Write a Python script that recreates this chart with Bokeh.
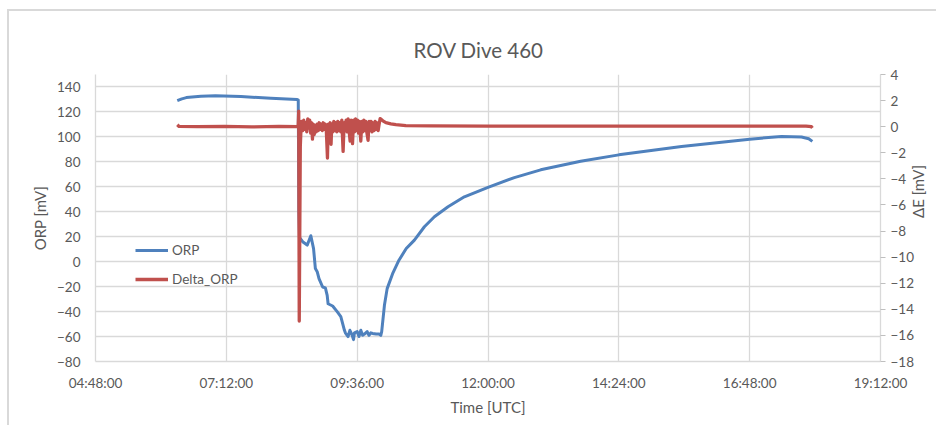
import math
import pandas as pd
from bokeh.plotting import figure
from bokeh.models import (Range1d, LinearAxis, FixedTicker, DatetimeTickFormatter,
                          Legend, LegendItem, ColumnDataSource, Title)
from bokeh.embed import file_html
from bokeh.resources import INLINE

DAY = "2000-01-01 "

# ORP sensor reading [mV] against time of day (UTC)
orp_time = ["06:18:00", "06:23:00", "06:28:00", "06:44:00", "07:00:00", "07:28:00",
            "08:01:00", "08:30:00", "08:31:10", "08:31:50", "08:32:30", "08:33:30",
            "08:36:00", "08:41:00", "08:43:00", "08:45:00", "08:48:00", "08:50:00",
            "08:52:00", "08:54:00", "08:58:00", "09:01:00", "09:03:00", "09:04:00",
            "09:09:00", "09:14:00", "09:18:00", "09:22:00", "09:23:00", "09:26:00",
            "09:28:00", "09:30:00", "09:32:00", "09:33:00", "09:36:00", "09:38:00",
            "09:40:00", "09:42:00", "09:44:00", "09:47:00", "09:49:00", "09:51:00",
            "09:53:00", "09:57:00", "10:00:00", "10:02:00", "10:03:00", "10:06:00",
            "10:09:00", "10:15:00", "10:22:00", "10:30:00", "10:39:00", "10:50:00",
            "11:01:00", "11:16:00", "11:34:00", "12:00:00", "12:29:00", "12:58:00",
            "13:42:00", "14:24:00", "15:33:00", "16:48:00", "17:23:00", "17:45:00",
            "17:53:00", "17:57:00"]
orp_mv = [129, 130.5, 131.5, 132.5, 133, 132.3,
          131, 130, 129.5, 40, 19, 18.5,
          16, 13.3, 17, 20.8, 10.5, -5.5,
          -8, -13.6, -20.3, -21, -27, -33.7,
          -35.5, -40, -44, -55, -57, -60,
          -55, -58, -62.5, -57, -56, -60,
          -55, -59, -58, -56, -59, -57,
          -57.5, -58, -58, -59, -56, -35,
          -21.6, -9.6, 1.2, 10.5, 17.3, 28,
          36, 44, 52, 59.6, 67.4, 73.6,
          80.5, 85.6, 92.3, 98.2, 100.4, 99.9,
          98.5, 96.4]

# Delta_ORP (potential change, right axis) [mV]
delta_time = ["06:18:00", "06:20:00", "06:40:00", "07:10:00", "07:40:00", "08:10:00",
              "08:31:00", "08:31:40", "08:32:15", "08:33:25", "08:34:30", "08:36:07",
              "08:37:13", "08:38:20", "08:39:26", "08:40:32", "08:41:38", "08:42:44",
              "08:43:45", "08:44:50", "08:45:56", "08:46:48", "08:47:37", "08:48:43",
              "08:49:50", "08:50:56", "08:52:00", "08:53:10", "08:54:16", "08:55:23",
              "08:56:29", "08:57:35", "08:58:41", "08:59:47", "09:00:54", "09:02:00",
              "09:03:18", "09:04:11", "09:05:17", "09:06:23", "09:07:16", "09:08:05",
              "09:09:11", "09:10:17", "09:11:23", "09:12:29", "09:13:35", "09:14:42",
              "09:15:48", "09:16:54", "09:18:00", "09:19:06", "09:20:32", "09:21:38",
              "09:22:44", "09:23:50", "09:24:56", "09:26:02", "09:27:08", "09:28:14",
              "09:29:20", "09:30:53", "09:32:00", "09:33:06", "09:34:12", "09:35:18",
              "09:36:24", "09:37:30", "09:38:36", "09:40:00", "09:41:06", "09:42:12",
              "09:43:18", "09:44:24", "09:45:30", "09:46:36", "09:48:00", "09:49:06",
              "09:50:12", "09:51:18", "09:52:24", "09:53:30", "09:54:36", "09:55:48",
              "09:56:54", "09:58:00", "09:59:06", "10:00:12", "10:01:18", "10:04:18",
              "10:07:36", "10:13:06", "10:18:36", "10:29:36", "10:57:00", "12:00:00",
              "13:30:00", "15:00:00", "16:30:00", "17:50:00", "17:56:00", "17:57:00"]
delta_mv = [0.15, 0.02, 0.0, 0.03, -0.02, 0.02,
            0.0, 1.2, -14.9, -1.5, 0.4, -0.3,
            0.5, -0.2, 0.3, -0.4, 0.6, -0.1,
            0.5, -0.5, 0.3, -0.95, 0.2, -0.6,
            0.1, -0.4, 0.2, -0.3, 0.3, -0.2,
            0.2, -0.3, 0.3, -0.2, 0.2, -0.2,
            -2.4, 0.2, -0.3, 0.3, -1.35, 0.2,
            -0.4, 0.4, -0.3, 0.3, -0.4, 0.4,
            -0.3, 0.3, -0.4, 0.5, -1.9, 0.3,
            -0.3, 0.5, -0.4, 0.6, -0.3, -1.1,
            0.5, -1.3, 0.5, -0.4, 0.6, -0.3,
            0.5, -0.5, 0.4, -1.1, 0.4, -0.4,
            0.5, -0.3, 0.4, -0.4, -1.05, 0.4,
            -0.3, 0.4, -0.4, 0.3, -0.3, 0.4,
            -0.2, 0.3, -0.3, 0.2, 0.62, 0.45,
            0.31, 0.22, 0.15, 0.08, 0.06, 0.04,
            0.05, 0.04, 0.05, 0.04, 0.0, -0.1]

x_ticks = ["04:48:00", "07:12:00", "09:36:00", "12:00:00", "14:24:00", "16:48:00", "19:12:00"]
orp_ticks = [-80, -60, -40, -20, 0, 20, 40, 60, 80, 100, 120, 140]
delta_ticks = [-18, -16, -14, -12, -10, -8, -6, -4, -2, 0, 2, 4]

FONT = "Lato"
TEXT = "#595959"
GRID = "#d9d9d9"


def to_dt(times):
    return pd.to_datetime([DAY + t for t in times])


def to_ms(times):
    return [pd.Timestamp(DAY + t).value / 1e6 for t in times]


orp_src = ColumnDataSource(dict(t=to_dt(orp_time), v=orp_mv))
delta_src = ColumnDataSource(dict(t=to_dt(delta_time), v=delta_mv))

tick_ms = to_ms(x_ticks)

# canvas sits inside a thin light-grey chart-area frame (top and left edges)
p = figure(width=927, height=414, output_backend="svg", toolbar_location=None,
           x_axis_type="datetime",
           x_range=Range1d(tick_ms[0], tick_ms[-1]), y_range=Range1d(-80, 150),
           min_border_left=86, min_border_right=57, min_border_top=63, min_border_bottom=66,
           margin=(9, 0, 0, 7),
           styles={"border-top": "2px solid #d9d9d9", "border-left": "2px solid #d9d9d9",
                   "box-sizing": "content-box"})
p.outline_line_color = None
p.background_fill_color = "white"
p.border_fill_color = "white"

# small empty band between plot area and title
p.add_layout(Title(text=" ", text_font_size="6px", standoff=0), "above")

# title
p.title.text = "ROV Dive 460"
p.title.align = "left"
p.title.offset = 318
p.title.text_font = FONT
p.title.text_font_size = "20.5px"
p.title.text_font_style = "normal"
p.title.text_color = TEXT

# time axis
xa = p.xaxis[0]
xa.ticker = FixedTicker(ticks=tick_ms)
fmt = "%H:%M:%S"
xa.formatter = DatetimeTickFormatter(seconds=fmt, minsec=fmt, minutes=fmt, hourmin=fmt,
                                     hours=fmt, days=fmt)
xa.axis_label = "Time [UTC]"

# ORP axis (left)
ya = p.yaxis[0]
ya.ticker = FixedTicker(ticks=orp_ticks)
ya.axis_label = "ORP [mV]"

# ΔE axis (right)
p.extra_y_ranges = {"delta": Range1d(-18, 4)}
ra = LinearAxis(y_range_name="delta", ticker=FixedTicker(ticks=delta_ticks),
                axis_label="ΔE [mV]")
p.add_layout(ra, "right")

for ax in (xa, ya, ra):
    ax.axis_line_color = GRID
    ax.axis_line_width = 1.3
    ax.major_tick_line_color = None
    ax.minor_tick_line_color = None
    ax.major_tick_out = 0
    ax.major_tick_in = 0
    ax.major_label_text_font = FONT
    ax.major_label_text_font_size = "13.5px"
    ax.major_label_text_color = TEXT
    ax.axis_label_text_font = FONT
    ax.axis_label_text_font_size = "15px"
    ax.axis_label_text_font_style = "normal"
    ax.axis_label_text_color = TEXT

xa.major_label_standoff = 13
xa.axis_label_standoff = 4
ya.major_label_standoff = 15
ya.axis_label_standoff = 5
ra.major_tick_line_color = "#bfbfbf"
ra.major_tick_out = 5
ra.major_label_standoff = 5
ra.axis_label_standoff = 1
ra.axis_label_orientation = math.pi / 2

p.xgrid.ticker = FixedTicker(ticks=tick_ms)
p.ygrid.ticker = FixedTicker(ticks=orp_ticks)
for g in (p.xgrid, p.ygrid):
    g.grid_line_color = GRID
    g.grid_line_width = 1.3

r_orp = p.line("t", "v", source=orp_src, line_color="#4f81bd", line_width=3,
               line_join="round")
r_delta = p.line("t", "v", source=delta_src, y_range_name="delta",
                 line_color="#c0504d", line_width=3.3, line_join="round")

legend = Legend(items=[LegendItem(label="ORP", renderers=[r_orp]),
                       LegendItem(label="Delta_ORP", renderers=[r_delta])],
                location=(40, 72), padding=0, margin=0, spacing=9,
                glyph_width=33, glyph_height=20, label_height=20, label_standoff=4,
                label_text_font=FONT, label_text_font_size="13.5px",
                label_text_color=TEXT, background_fill_alpha=0,
                border_line_color=None)
p.add_layout(legend)

open("out.html", "w").write(file_html(p, INLINE))
